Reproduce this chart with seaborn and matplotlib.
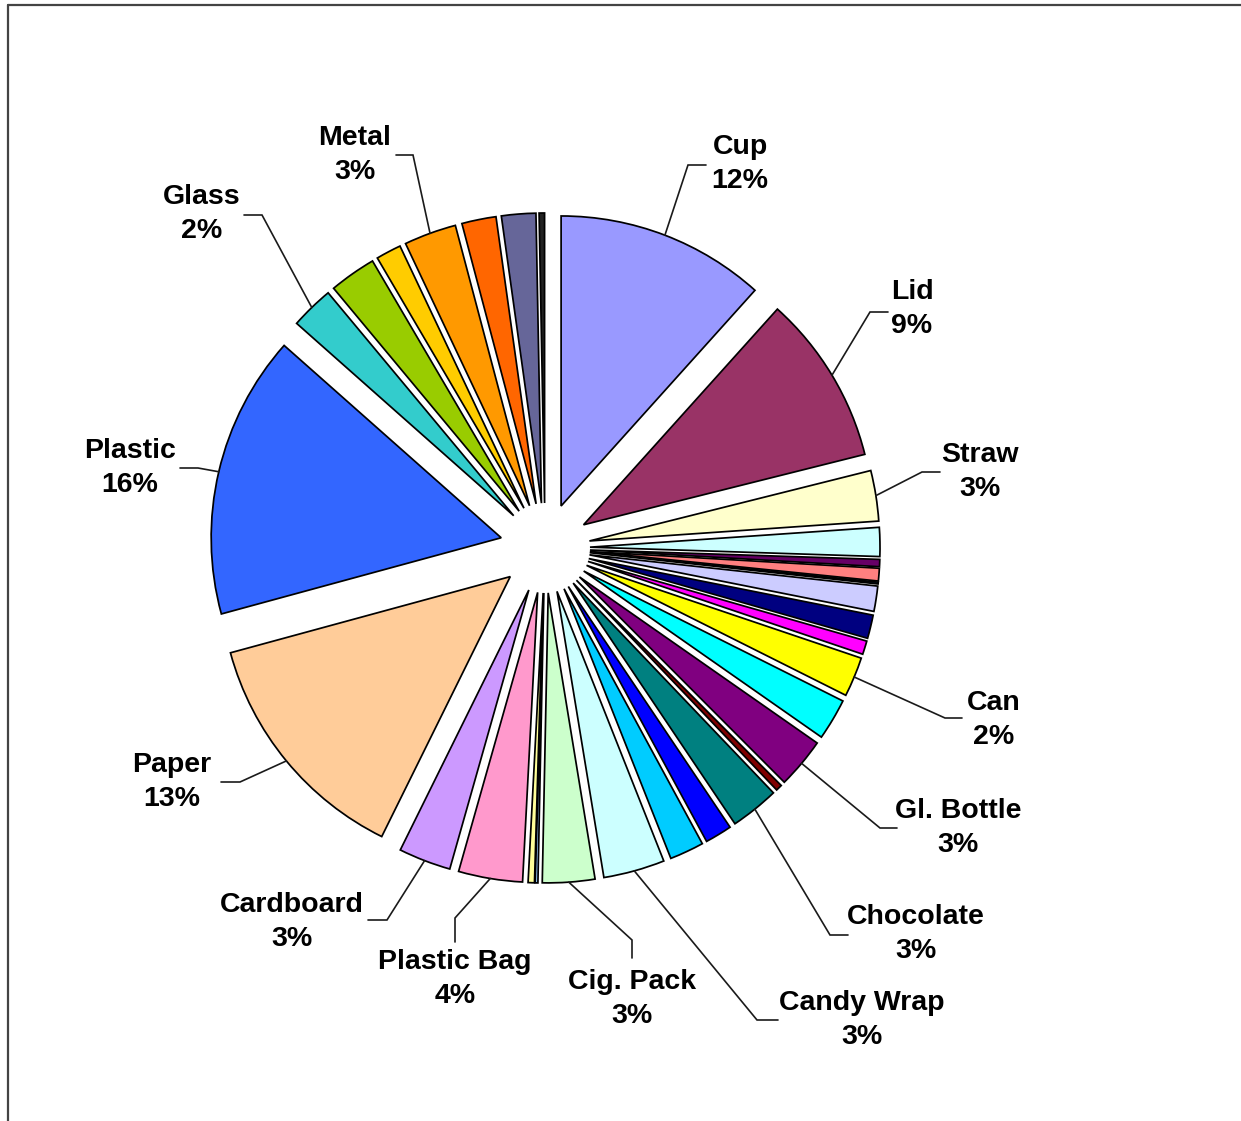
import math
import matplotlib
matplotlib.use("Agg")
import matplotlib.pyplot as plt
from matplotlib.lines import Line2D
import seaborn as sns

# Litter composition, clockwise from 12 o'clock (percent of items)
categories = ["Cup", "Lid", "Straw", "", "", "", "", "", "", "", "Can",
              "", "Gl. Bottle", "", "Chocolate", "", "", "Candy Wrap",
              "Cig. Pack", "", "", "Plastic Bag", "Cardboard", "Paper",
              "Plastic", "Glass", "", "", "Metal", "", "", ""]
values = [11.6, 9.4, 2.8, 1.6, 0.4, 0.7, 0.1, 1.4, 1.3, 0.75, 2.2,
          2.3, 2.8, 0.35, 2.7, 1.5, 1.9, 3.4,
          2.9, 0.15, 0.35, 3.55, 2.9, 13.4,
          15.7, 2.4, 2.6, 1.4, 2.9, 1.9, 1.9, 0.3]
colors = ["#9999FF", "#993366", "#FFFFCC", "#CCFFFF", "#660066", "#FF8080",
          "#0066CC", "#CCCCFF", "#000080", "#FF00FF", "#FFFF00",
          "#00FFFF", "#800080", "#800000", "#008080", "#0000FF", "#00CCFF",
          "#CCFFFF", "#CCFFCC", "#99CCFF", "#FFFF99", "#FF99CC", "#CC99FF",
          "#FFCC99", "#3366FF", "#33CCCC", "#99CC00", "#FFCC00", "#FF9900",
          "#FF6600", "#666699", "#222222"]

# Label layout in figure pixels (from top-left): text centre, leader elbow, leader end
label_layout = {
    "Cup":         ((740, 164), (688, 165), (706, 165)),
    "Lid":         ((912, 309), (870, 312), (888, 312)),
    "Straw":       ((980, 472), (922, 472), (940, 472)),
    "Can":         ((994, 720), (945, 718), (962, 718)),
    "Gl. Bottle":  ((958, 828), (880, 828), (897, 828)),
    "Chocolate":   ((916, 934), (830, 935), (848, 935)),
    "Candy Wrap":  ((862, 1020), (757, 1020), (778, 1020)),
    "Cig. Pack":   ((632, 999), (632, 940), (632, 958)),
    "Plastic Bag": ((455, 979), (455, 918), (455, 942)),
    "Cardboard":   ((292, 922), (387, 920), (368, 920)),
    "Paper":       ((172, 782), (240, 782), (221, 782)),
    "Plastic":     ((130, 468), (198, 468), (180, 468)),
    "Glass":       ((202, 214), (262, 215), (244, 215)),
    "Metal":       ((355, 155), (413, 155), (396, 155)),
}

W, H = 1241, 1121
CX, CY, R = 545, 548, 290          # pie centre and radius in pixels
EXPLODE = 45 / R

sns.set_theme(style="white")
plt.rcParams["font.family"] = ["Liberation Sans", "DejaVu Sans"]

fig = plt.figure(figsize=(W / 100, H / 100), dpi=100)
fig.patch.set_facecolor("white")
ax = fig.add_axes([0, 0, 1, 1])

wedges, _ = ax.pie(values, colors=colors, startangle=90, counterclock=False,
                   explode=[EXPLODE] * len(values), radius=1.0,
                   wedgeprops=dict(edgecolor="black", linewidth=1.25))

ax.set_xlim(-CX / R, (W - CX) / R)
ax.set_ylim(-(H - CY) / R, CY / R)
ax.set_aspect("equal")
ax.axis("off")


def to_data(px, py):
    return (px - CX) / R, (CY - py) / R


total = sum(values)
for name, val, w in zip(categories, values, wedges):
    if not name:
        continue
    (tx, ty), elbow, end = label_layout[name]
    mid = math.radians(0.5 * (w.theta1 + w.theta2))
    cx, cy = w.center
    start = (cx + w.r * math.cos(mid), cy + w.r * math.sin(mid))
    pts = [start, to_data(*elbow), to_data(*end)]
    ax.plot([p[0] for p in pts], [p[1] for p in pts], color="#1a1a1a",
            linewidth=1.2, solid_joinstyle="miter")
    pct = round(val / total * 100)
    x, y = to_data(tx, ty)
    ax.text(x, y, f"{name}\n{pct}%", ha="center", va="center",
            multialignment="center", fontsize=20.5, fontweight="bold",
            color="black", linespacing=1.38)

# chart frame (top and left edges)
fig.add_artist(Line2D([8 / W, 8 / W], [0, 1 - 5 / H], transform=fig.transFigure,
                      color="#444444", linewidth=1.6))
fig.add_artist(Line2D([8 / W, 1], [1 - 5 / H, 1 - 5 / H], transform=fig.transFigure,
                      color="#444444", linewidth=1.6))

fig.savefig("out.png", dpi=100, facecolor="white")
